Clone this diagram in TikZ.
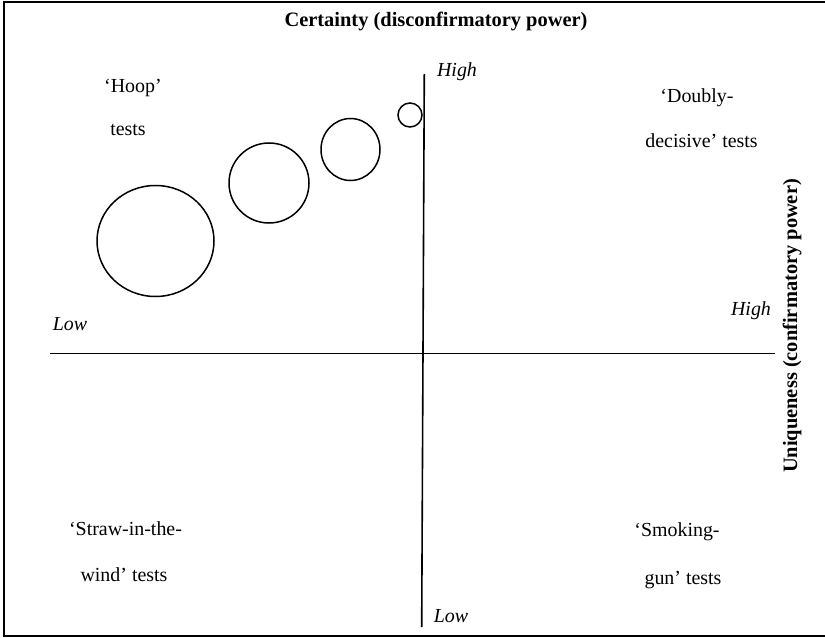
\documentclass[tikz,border=0pt]{standalone}
\usepackage{fontspec}
\setmainfont{Liberation Serif}
\begin{document}
\begin{tikzpicture}[x=1bp,y=-1bp,
  lbl/.style={inner sep=0pt,font=\fontsize{20}{24}\selectfont,text height=14bp,text depth=4bp},
  ital/.style={lbl,font=\fontsize{20}{24}\selectfont\itshape},
  ttl/.style={lbl,font=\fontsize{20.5}{24}\selectfont\bfseries},
  axis/.style={line width=1.6bp},
  ring/.style={line width=1.5bp}]
\useasboundingbox (0,0) rectangle (825,638);
\draw[line width=1.5bp] (830,2) -- (4,2) -- (4,636) -- (830,636);
% axes
\coordinate (vt) at (424.3,74);
\coordinate (vb) at (421.7,627);
\coordinate (hl) at (50,353.3);
\coordinate (hr) at (775,353.3);
\draw[axis] (vt) -- (vb);
\draw[axis] (hl) -- (hr);
% circles
\draw[ring] (410,115) ellipse [x radius=12,y radius=12];
\draw[ring] (350.5,149.5) ellipse [x radius=29.5,y radius=31];
\draw[ring] (269,183) ellipse [x radius=40,y radius=40];
\draw[ring] (155.5,241) ellipse [x radius=58.5,y radius=55.5];
% labels
\node[ttl] (cert) at (436,22) {Certainty (disconfirmatory power)};
\node[ttl,rotate=90] (uniq) at (792,326) {Uniqueness (confirmatory power)};
\node[ital] (hightop) at (457,72) {High};
\node[ital] (lowbot) at (451,617) {Low};
\node[ital] (lowleft) at (70,325) {Low};
\node[ital] (highright) at (751,310) {High};
\node[lbl] (hoop1) at (133,88) {‘Hoop’};
\node[lbl] (hoop2) at (128,131) {tests};
\node[lbl] (dd1) at (697,98) {‘Doubly-};
\node[lbl] (dd2) at (701.5,143) {decisive’ tests};
\node[lbl] (sw1) at (125.5,530) {‘Straw-in-the-};
\node[lbl] (sw2) at (124,576) {wind’ tests};
\node[lbl] (sg1) at (677,531) {‘Smoking-};
\node[lbl] (sg2) at (683,579) {gun’ tests};
\end{tikzpicture}
\end{document}
